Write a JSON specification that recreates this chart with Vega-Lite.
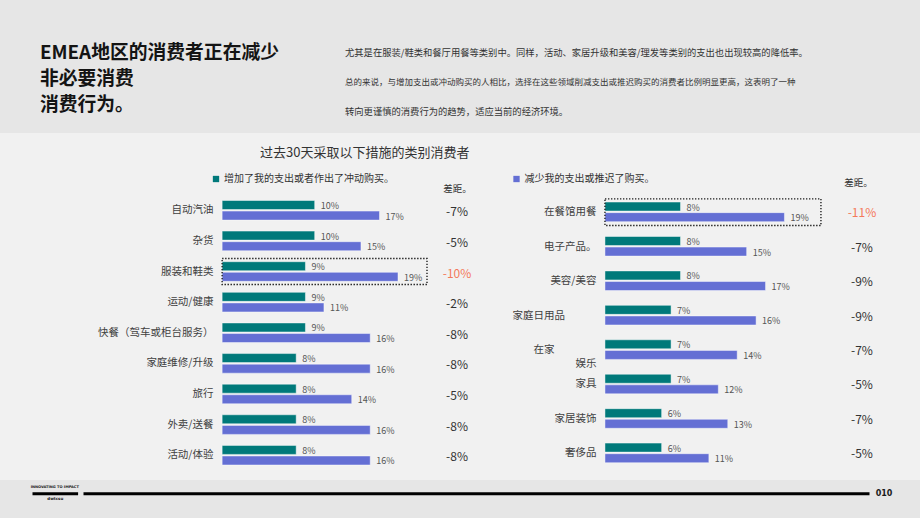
{
  "$schema": "https://vega.github.io/schema/vega-lite/v6.json",
  "padding": 0,
  "background": "#e6e6e6",
  "config": {
    "font": "Noto Sans CJK SC",
    "view": {"stroke": null},
    "axis": {"labelFont": "Noto Sans CJK SC", "titleFont": "Noto Sans CJK SC"},
    "legend": {"labelFont": "Noto Sans CJK SC"},
    "title": {"font": "Noto Sans CJK SC"}
  },
  "datasets": {
    "header": [
      {"block": "title", "row": 1, "text": "EMEA地区的消费者正在减少"},
      {"block": "title", "row": 2, "text": "非必要消费"},
      {"block": "title", "row": 3, "text": "消费行为。"},
      {"block": "paragraph", "row": 1, "text": "尤其是在服装/鞋类和餐厅用餐等类别中。同样，活动、家居升级和美容/理发等类别的支出也出现较高的降低率。"},
      {"block": "paragraph", "row": 2, "text": "总的来说，与增加支出或冲动购买的人相比，选择在这些领域削减支出或推迟购买的消费者比例明显更高，这表明了一种"},
      {"block": "paragraph", "row": 3, "text": "转向更谨慎的消费行为的趋势，适应当前的经济环境。"}
    ],
    "bars": [
      {"panel": "left", "category": "自动汽油", "series": "增加了我的支出或者作出了冲动购买。", "value": 0.10},
      {"panel": "left", "category": "自动汽油", "series": "减少我的支出或推迟了购买。", "value": 0.17},
      {"panel": "left", "category": "杂货", "series": "增加了我的支出或者作出了冲动购买。", "value": 0.10},
      {"panel": "left", "category": "杂货", "series": "减少我的支出或推迟了购买。", "value": 0.15},
      {"panel": "left", "category": "服装和鞋类", "series": "增加了我的支出或者作出了冲动购买。", "value": 0.09},
      {"panel": "left", "category": "服装和鞋类", "series": "减少我的支出或推迟了购买。", "value": 0.19},
      {"panel": "left", "category": "运动/健康", "series": "增加了我的支出或者作出了冲动购买。", "value": 0.09},
      {"panel": "left", "category": "运动/健康", "series": "减少我的支出或推迟了购买。", "value": 0.11},
      {"panel": "left", "category": "快餐（驾车或柜台服务）", "series": "增加了我的支出或者作出了冲动购买。", "value": 0.09},
      {"panel": "left", "category": "快餐（驾车或柜台服务）", "series": "减少我的支出或推迟了购买。", "value": 0.16},
      {"panel": "left", "category": "家庭维修/升级", "series": "增加了我的支出或者作出了冲动购买。", "value": 0.08},
      {"panel": "left", "category": "家庭维修/升级", "series": "减少我的支出或推迟了购买。", "value": 0.16},
      {"panel": "left", "category": "旅行", "series": "增加了我的支出或者作出了冲动购买。", "value": 0.08},
      {"panel": "left", "category": "旅行", "series": "减少我的支出或推迟了购买。", "value": 0.14},
      {"panel": "left", "category": "外卖/送餐", "series": "增加了我的支出或者作出了冲动购买。", "value": 0.08},
      {"panel": "left", "category": "外卖/送餐", "series": "减少我的支出或推迟了购买。", "value": 0.16},
      {"panel": "left", "category": "活动/体验", "series": "增加了我的支出或者作出了冲动购买。", "value": 0.08},
      {"panel": "left", "category": "活动/体验", "series": "减少我的支出或推迟了购买。", "value": 0.16},
      {"panel": "right", "category": "在餐馆用餐", "series": "增加了我的支出或者作出了冲动购买。", "value": 0.08},
      {"panel": "right", "category": "在餐馆用餐", "series": "减少我的支出或推迟了购买。", "value": 0.19},
      {"panel": "right", "category": "电子产品。", "series": "增加了我的支出或者作出了冲动购买。", "value": 0.08},
      {"panel": "right", "category": "电子产品。", "series": "减少我的支出或推迟了购买。", "value": 0.15},
      {"panel": "right", "category": "美容/美容", "series": "增加了我的支出或者作出了冲动购买。", "value": 0.08},
      {"panel": "right", "category": "美容/美容", "series": "减少我的支出或推迟了购买。", "value": 0.17},
      {"panel": "right", "category": "家庭日用品　　　\u2060", "series": "增加了我的支出或者作出了冲动购买。", "value": 0.07},
      {"panel": "right", "category": "家庭日用品　　　\u2060", "series": "减少我的支出或推迟了购买。", "value": 0.16},
      {"panel": "right", "category": "在家　　　　\u2060\n娱乐", "series": "增加了我的支出或者作出了冲动购买。", "value": 0.07},
      {"panel": "right", "category": "在家　　　　\u2060\n娱乐", "series": "减少我的支出或推迟了购买。", "value": 0.14},
      {"panel": "right", "category": "家具", "series": "增加了我的支出或者作出了冲动购买。", "value": 0.07},
      {"panel": "right", "category": "家具", "series": "减少我的支出或推迟了购买。", "value": 0.12},
      {"panel": "right", "category": "家居装饰", "series": "增加了我的支出或者作出了冲动购买。", "value": 0.06},
      {"panel": "right", "category": "家居装饰", "series": "减少我的支出或推迟了购买。", "value": 0.13},
      {"panel": "right", "category": "奢侈品", "series": "增加了我的支出或者作出了冲动购买。", "value": 0.06},
      {"panel": "right", "category": "奢侈品", "series": "减少我的支出或推迟了购买。", "value": 0.11}
    ],
    "gaps": [
      {"panel": "left", "category": "自动汽油", "gap": "-7%", "highlight": false},
      {"panel": "left", "category": "杂货", "gap": "-5%", "highlight": false},
      {"panel": "left", "category": "服装和鞋类", "gap": "-10%", "highlight": true},
      {"panel": "left", "category": "运动/健康", "gap": "-2%", "highlight": false},
      {"panel": "left", "category": "快餐（驾车或柜台服务）", "gap": "-8%", "highlight": false},
      {"panel": "left", "category": "家庭维修/升级", "gap": "-8%", "highlight": false},
      {"panel": "left", "category": "旅行", "gap": "-5%", "highlight": false},
      {"panel": "left", "category": "外卖/送餐", "gap": "-8%", "highlight": false},
      {"panel": "left", "category": "活动/体验", "gap": "-8%", "highlight": false},
      {"panel": "right", "category": "在餐馆用餐", "gap": "-11%", "highlight": true},
      {"panel": "right", "category": "电子产品。", "gap": "-7%", "highlight": false},
      {"panel": "right", "category": "美容/美容", "gap": "-9%", "highlight": false},
      {"panel": "right", "category": "家庭日用品　　　\u2060", "gap": "-9%", "highlight": false},
      {"panel": "right", "category": "在家　　　　\u2060\n娱乐", "gap": "-7%", "highlight": false},
      {"panel": "right", "category": "家具", "gap": "-5%", "highlight": false},
      {"panel": "right", "category": "家居装饰", "gap": "-7%", "highlight": false},
      {"panel": "right", "category": "奢侈品", "gap": "-5%", "highlight": false}
    ]
  },
  "bounds": "full",
  "spacing": 0,
  "resolve": {"legend": {"color": "independent"}},
  "vconcat": [
    {
      "width": 920,
      "height": 133,
      "data": {"name": "header"},
      "layer": [
        {
          "transform": [{"filter": "datum.block == 'title'"}],
          "mark": {"type": "text", "align": "left", "baseline": "middle", "fontSize": 18.8, "fontWeight": "bold", "color": "#141414"},
          "encoding": {
            "x": {"field": "block", "type": "nominal", "scale": {"type": "point", "domain": ["title", "paragraph"], "range": [40, 345], "padding": 0}, "axis": null},
            "y": {"field": "row", "type": "ordinal", "scale": {"type": "point", "domain": [1, 2, 3], "range": [53, 105], "padding": 0}, "axis": null},
            "text": {"field": "text"}
          }
        },
        {
          "transform": [{"filter": "datum.block == 'paragraph'"}],
          "mark": {"type": "text", "align": "left", "baseline": "middle", "color": "#333333"},
          "encoding": {
            "x": {"field": "block", "type": "nominal", "scale": {"type": "point", "domain": ["title", "paragraph"], "range": [40, 345], "padding": 0}, "axis": null},
            "y": {"field": "row", "type": "ordinal", "scale": {"type": "point", "domain": [1, 2, 3], "range": [52.7, 111.7], "padding": 0}, "axis": null},
            "text": {"field": "text"},
            "size": {"condition": {"test": "datum.row == 2", "value": 8.5}, "value": 9.3}
          }
        }
      ],
      "resolve": {"scale": {"y": "independent"}}
    },
    {
      "hconcat": [
        {
          "width": 490,
          "height": 347,
          "view": {"fill": "#f1f1f1", "stroke": null},
          "title": {"text": "过去30天采取以下措施的类别消费者", "anchor": "start", "frame": "group", "orient": "top", "offset": 0, "dx": 260, "dy": 33, "baseline": "middle", "fontSize": 13, "fontWeight": "normal", "color": "#333333"},
          "layer": [
            {
              "data": {"name": "bars"},
              "transform": [{"filter": "datum.panel == 'left'"}],
              "mark": {"type": "bar", "stroke": "#ffffff", "strokeOpacity": 0.45, "strokeWidth": 1},
              "encoding": {
                "y": {"field": "category", "type": "nominal", "sort": null,
                  "scale": {"range": [62, 337.5], "paddingInner": 0.36, "paddingOuter": 0.18},
                  "axis": {"title": null, "domain": false, "ticks": false, "offset": -222, "labelPadding": 9, "labelFontSize": 10.5, "labelColor": "#404040", "labelLimit": 0, "labelExpr": "split(datum.label, '\\n')", "labelLineHeight": 14}},
                "yOffset": {"field": "series", "type": "nominal", "sort": ["增加了我的支出或者作出了冲动购买。", "减少我的支出或推迟了购买。"], "scale": {"paddingInner": 0.15, "paddingOuter": 0}},
                "x": {"field": "value", "type": "quantitative", "stack": null, "scale": {"domain": [-0.24, 0.2894], "nice": false, "zero": false}, "axis": null},
                "color": {"field": "series", "type": "nominal",
                  "scale": {"domain": ["增加了我的支出或者作出了冲动购买。", "减少我的支出或推迟了购买。"], "range": ["#00797a", "#646fd4"]},
                  "legend": {"values": ["增加了我的支出或者作出了冲动购买。"], "orient": "none", "legendX": 211, "legendY": 41, "title": null, "symbolType": "square", "symbolSize": 40, "symbolStrokeWidth": 0, "labelFontSize": 10, "labelColor": "#333333", "labelOffset": 3, "padding": 0, "labelLimit": 0}}
              }
            },
            {
              "data": {"name": "bars"},
              "transform": [{"filter": "datum.panel == 'left'"}],
              "mark": {"type": "text", "align": "left", "baseline": "middle", "dx": 6, "dy": 1, "fontSize": 9, "color": "#555555"},
              "encoding": {
                "y": {"field": "category", "type": "nominal", "sort": null},
                "yOffset": {"field": "series", "type": "nominal", "sort": ["增加了我的支出或者作出了冲动购买。", "减少我的支出或推迟了购买。"]},
                "x": {"field": "value", "type": "quantitative", "stack": null, "scale": {"domain": [-0.24, 0.2894], "nice": false, "zero": false}, "axis": null},
                "text": {"field": "value", "type": "quantitative", "format": ".0%"}
              }
            },
            {
              "data": {"name": "bars"},
              "transform": [
                {"filter": "datum.panel == 'left'"},
                {"lookup": "category", "from": {"data": {"name": "gaps"}, "key": "category", "fields": ["highlight"]}},
                {"filter": "datum.highlight"}
              ],
              "mark": {"type": "bar", "fill": "transparent", "stroke": "#1e1e1e", "strokeWidth": 1.4, "strokeDash": [1.4, 1.6], "height": {"band": 1.33}, "xOffset": 29, "x2Offset": -1},
              "encoding": {
                "y": {"field": "category", "type": "nominal", "sort": null},
                "x": {"field": "value", "aggregate": "max", "type": "quantitative", "stack": null, "scale": {"domain": [-0.24, 0.2894], "nice": false, "zero": false}, "axis": null}
              }
            },
            {
              "data": {"name": "gaps"},
              "transform": [{"filter": "datum.panel == 'left'"}],
              "mark": {"type": "text", "align": "center", "baseline": "middle", "fontSize": 12, "dy": 2},
              "encoding": {
                "y": {"field": "category", "type": "nominal", "sort": null},
                "x": {"datum": "差距。", "type": "nominal", "scale": {"type": "point", "align": 0.9327},
                  "axis": {"orient": "top", "offset": -55, "domain": false, "ticks": false, "tickSize": 0, "grid": false, "labelAngle": 0, "labelPadding": 0, "labelBaseline": "middle", "labelFontSize": 9.5, "labelColor": "#333333", "title": null}},
                "text": {"field": "gap"},
                "color": {"condition": {"test": "datum.highlight", "value": "#f4795b"}, "value": "#333333"}
              }
            }
          ],
          "resolve": {"scale": {"x": "independent"}, "axis": {"x": "independent"}}
        },
        {
          "width": 430,
          "height": 347,
          "view": {"fill": "#f1f1f1", "stroke": null},
          "layer": [
            {
              "data": {"name": "bars"},
              "transform": [{"filter": "datum.panel == 'right'"}],
              "mark": {"type": "bar", "stroke": "#ffffff", "strokeOpacity": 0.45, "strokeWidth": 1},
              "encoding": {
                "y": {"field": "category", "type": "nominal", "sort": null,
                  "scale": {"range": [62, 337.5], "paddingInner": 0.41, "paddingOuter": 0.205},
                  "axis": {"title": null, "domain": false, "ticks": false, "offset": -115, "labelPadding": 9, "labelFontSize": 10.5, "labelColor": "#404040", "labelLimit": 0, "labelExpr": "split(datum.label, '\\n')", "labelLineHeight": 14}},
                "yOffset": {"field": "series", "type": "nominal", "sort": ["增加了我的支出或者作出了冲动购买。", "减少我的支出或推迟了购买。"], "scale": {"paddingInner": 0.15, "paddingOuter": 0}},
                "x": {"field": "value", "type": "quantitative", "stack": null, "scale": {"domain": [-0.1217, 0.3335], "nice": false, "zero": false}, "axis": null},
                "color": {"field": "series", "type": "nominal",
                  "scale": {"domain": ["增加了我的支出或者作出了冲动购买。", "减少我的支出或推迟了购买。"], "range": ["#00797a", "#646fd4"]},
                  "legend": {"values": ["减少我的支出或推迟了购买。"], "orient": "none", "legendX": 21.5, "legendY": 41, "title": null, "symbolType": "square", "symbolSize": 40, "symbolStrokeWidth": 0, "labelFontSize": 10, "labelColor": "#333333", "labelOffset": 3, "padding": 0, "labelLimit": 0}}
              }
            },
            {
              "data": {"name": "bars"},
              "transform": [{"filter": "datum.panel == 'right'"}],
              "mark": {"type": "text", "align": "left", "baseline": "middle", "dx": 6, "dy": 1, "fontSize": 9, "color": "#555555"},
              "encoding": {
                "y": {"field": "category", "type": "nominal", "sort": null},
                "yOffset": {"field": "series", "type": "nominal", "sort": ["增加了我的支出或者作出了冲动购买。", "减少我的支出或推迟了购买。"]},
                "x": {"field": "value", "type": "quantitative", "stack": null, "scale": {"domain": [-0.1217, 0.3335], "nice": false, "zero": false}, "axis": null},
                "text": {"field": "value", "type": "quantitative", "format": ".0%"}
              }
            },
            {
              "data": {"name": "bars"},
              "transform": [
                {"filter": "datum.panel == 'right'"},
                {"lookup": "category", "from": {"data": {"name": "gaps"}, "key": "category", "fields": ["highlight"]}},
                {"filter": "datum.highlight"}
              ],
              "mark": {"type": "bar", "fill": "transparent", "stroke": "#1e1e1e", "strokeWidth": 1.4, "strokeDash": [1.4, 1.6], "height": {"band": 1.31}, "xOffset": 36.5, "x2Offset": -5},
              "encoding": {
                "y": {"field": "category", "type": "nominal", "sort": null},
                "x": {"field": "value", "aggregate": "max", "type": "quantitative", "stack": null, "scale": {"domain": [-0.1217, 0.3335], "nice": false, "zero": false}, "axis": null}
              }
            },
            {
              "data": {"name": "gaps"},
              "transform": [{"filter": "datum.panel == 'right'"}],
              "mark": {"type": "text", "align": "center", "baseline": "middle", "fontSize": 12, "dy": 1},
              "encoding": {
                "y": {"field": "category", "type": "nominal", "sort": null},
                "x": {"datum": "差距。", "type": "nominal", "scale": {"type": "point", "align": 0.865},
                  "axis": {"orient": "top", "offset": -49.7, "domain": false, "ticks": false, "tickSize": 0, "grid": false, "labelAngle": 0, "labelPadding": 0, "labelOffset": -4, "labelBaseline": "middle", "labelFontSize": 9.5, "labelColor": "#333333", "title": null}},
                "text": {"field": "gap"},
                "color": {"condition": {"test": "datum.highlight", "value": "#f4795b"}, "value": "#333333"}
              }
            }
          ],
          "resolve": {"scale": {"x": "independent"}, "axis": {"x": "independent"}}
        }
      ],
      "spacing": 0,
      "bounds": "flush",
      "resolve": {"legend": {"color": "independent"}}
    },
    {
      "hconcat": [
        {
          "width": 26.7,
          "height": 38,
          "data": {"values": [{}]},
          "mark": {"type": "text", "opacity": 0},
          "encoding": {}
        },
        {
          "width": 45.6,
          "height": 13.3,
          "data": {"values": [{"tag": "INNOVATING TO IMPACT", "brand": "dwtcsu"}]},
          "mark": {"type": "text", "fontSize": 3.6, "fontWeight": "bold", "color": "#1a1a1a", "font": "DejaVu Sans"},
          "encoding": {
            "text": {"field": "tag"},
            "x": {"field": "brand", "type": "nominal",
              "axis": {"orient": "bottom", "title": null, "domainColor": "#000000", "domainWidth": 3, "ticks": false, "tickSize": 0, "grid": false, "labelFont": "DejaVu Sans", "labelFontWeight": "bold", "labelFontSize": 4, "labelColor": "#1a1a1a", "labelPadding": 5, "labelBaseline": "middle", "labelAngle": 0}}
          }
        },
        {
          "width": 786,
          "height": 13.3,
          "data": {"values": [{}]},
          "mark": {"type": "text", "opacity": 0},
          "encoding": {
            "x": {"datum": "rule", "type": "nominal",
              "axis": {"orient": "bottom", "title": null, "domainColor": "#000000", "domainWidth": 3, "ticks": false, "labels": false, "grid": false}}
          }
        },
        {
          "width": 20,
          "height": 27,
          "data": {"values": [{"page": "010"}]},
          "mark": {"type": "text", "fontSize": 8, "fontWeight": "bold", "color": "#1a1a1a", "font": "DejaVu Sans"},
          "encoding": {"text": {"field": "page"}}
        }
      ],
      "spacing": 5,
      "bounds": "flush"
    }
  ]
}
